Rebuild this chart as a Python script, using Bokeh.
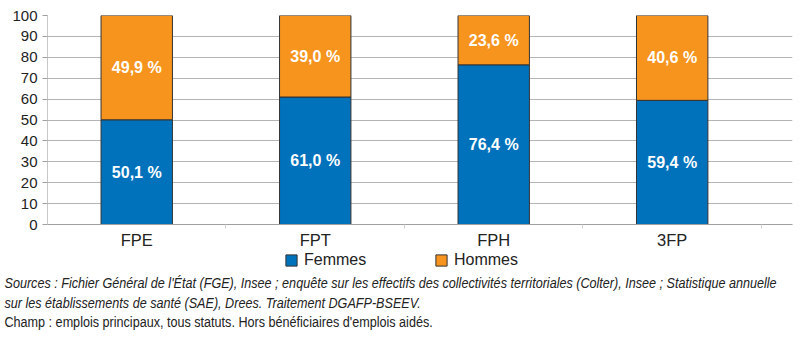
from bokeh.plotting import figure
from bokeh.layouts import column
from bokeh.models import (Range1d, FixedTicker, Legend, LegendItem, Div, ColumnDataSource)
from bokeh.core.properties import value
from bokeh.embed import file_html
from bokeh.resources import INLINE

categories = ["FPE", "FPT", "FPH", "3FP"]
femmes = [50.1, 61.0, 76.4, 59.4]
hommes = [49.9, 39.0, 23.6, 40.6]
y_ticks = [0, 10, 20, 30, 40, 50, 60, 70, 80, 90, 100]
series_names = ["Femmes", "Hommes"]
colors = ["#0072BC", "#F7941D"]
sources_text = ("Sources : Fichier Général de l'État (FGE), Insee ; enquête sur les effectifs des collectivités "
                "territoriales (Colter), Insee ; Statistique annuelle")
sources_text2 = "sur les établissements de santé (SAE), Drees. Traitement DGAFP-BSEEV."
champ_text = "Champ : emplois principaux, tous statuts. Hors bénéficiaires d'emplois aidés."

FONT = "Liberation Sans"

xs = [i + 0.5 for i in range(len(categories))]
src = ColumnDataSource(dict(x=xs, Femmes=femmes, Hommes=hommes))

p = figure(width=800, height=251, output_backend="svg", toolbar_location=None,
           x_range=Range1d(0, 4.174), y_range=Range1d(0, 100),
           min_border_left=47, min_border_right=8, min_border_top=15, min_border_bottom=27)
p.outline_line_color = None
p.background_fill_color = "white"
p.border_fill_color = "white"

renderers = p.vbar_stack(series_names, x="x", width=0.4, source=src, color=colors,
                         line_color="#333333", line_width=1)

# value labels
f_y = [v / 2 for v in femmes]
h_y = [f + h / 2 for f, h in zip(femmes, hommes)]
f_txt = [f"{v:.1f} %".replace(".", ",") for v in femmes]
h_txt = [f"{v:.1f} %".replace(".", ",") for v in hommes]
lab = ColumnDataSource(dict(x=xs + xs, y=f_y + h_y, t=f_txt + h_txt))
p.text(x="x", y="y", text="t", source=lab, text_align="center", text_baseline="middle",
       text_color="white", text_font=value(FONT), text_font_size="16px", text_font_style="bold")

# axes
p.yaxis.ticker = FixedTicker(ticks=y_ticks)
p.yaxis.axis_line_color = "#c8c8c8"
p.yaxis.major_tick_line_color = "#a0a0a0"
p.yaxis.major_tick_in = 0
p.yaxis.major_tick_out = 5
p.yaxis.minor_tick_line_color = None
p.yaxis.major_label_text_font = FONT
p.yaxis.major_label_text_font_size = "15px"
p.yaxis.major_label_text_color = "#222222"
p.yaxis.major_label_standoff = 5

p.xaxis.ticker = FixedTicker(ticks=xs, minor_ticks=[1, 2, 3, 4])
p.xaxis.major_label_overrides = {x: c for x, c in zip(xs, categories)}
p.xaxis.axis_line_color = "#a0a0a0"
p.xaxis.major_tick_line_color = None
p.xaxis.minor_tick_line_color = "#d0d0d0"
p.xaxis.minor_tick_in = 0
p.xaxis.minor_tick_out = 4
p.xaxis.major_label_text_font = FONT
p.xaxis.major_label_text_font_size = "16.5px"
p.xaxis.major_label_text_color = "#222222"
p.xaxis.major_label_standoff = 0

p.xgrid.grid_line_color = None
p.ygrid.grid_line_color = "#b4b4b4"
p.ygrid.ticker = FixedTicker(ticks=y_ticks)

# legend panel (no axes); its frame is aligned with the chart frame
p2 = figure(width=800, height=26, output_backend="svg", toolbar_location=None,
            x_axis_type=None, y_axis_type=None,
            x_range=Range1d(100, 101), y_range=Range1d(1000, 1001),
            min_border=0, min_border_left=0, min_border_right=0, min_border_top=0, min_border_bottom=0)
p2.grid.visible = False
p2.outline_line_color = None
p2.border_fill_color = "white"
p2.background_fill_color = "white"

# same series styling, lying outside this panel's visible range: used only as legend swatches
leg_renderers = p2.vbar_stack(series_names, x="x", width=0.4, source=src, color=colors,
                              line_color="#333333", line_width=1)

legend = Legend(items=[LegendItem(label=n, renderers=[r]) for n, r in zip(series_names, leg_renderers)],
                orientation="horizontal", location=(237, 8), padding=0, margin=0,
                spacing=33, glyph_width=14, glyph_height=14, label_height=16,
                label_standoff=6, label_width=97,
                label_text_font=FONT, label_text_font_size="16px", label_text_color="#222222",
                border_line_color=None, background_fill_alpha=0)
p2.add_layout(legend, "center")

notes_html = (
    '<div style="font-family:\'Liberation Sans\', Arial, sans-serif; font-size:14px; '
    'color:#222222; line-height:19.5px; padding:0 0 0 5px; margin:0; white-space:nowrap; '
    'position:relative; top:-3px; transform:scaleX(0.9); transform-origin:0 0; overflow:visible;">'
    f'<i>{sources_text}<br>{sources_text2}</i><br>{champ_text}</div>'
)
notes = Div(text=notes_html, width=800, height=66, margin=0)

layout = column(p, p2, notes, spacing=0)
open("out.html", "w").write(file_html(layout, INLINE))
